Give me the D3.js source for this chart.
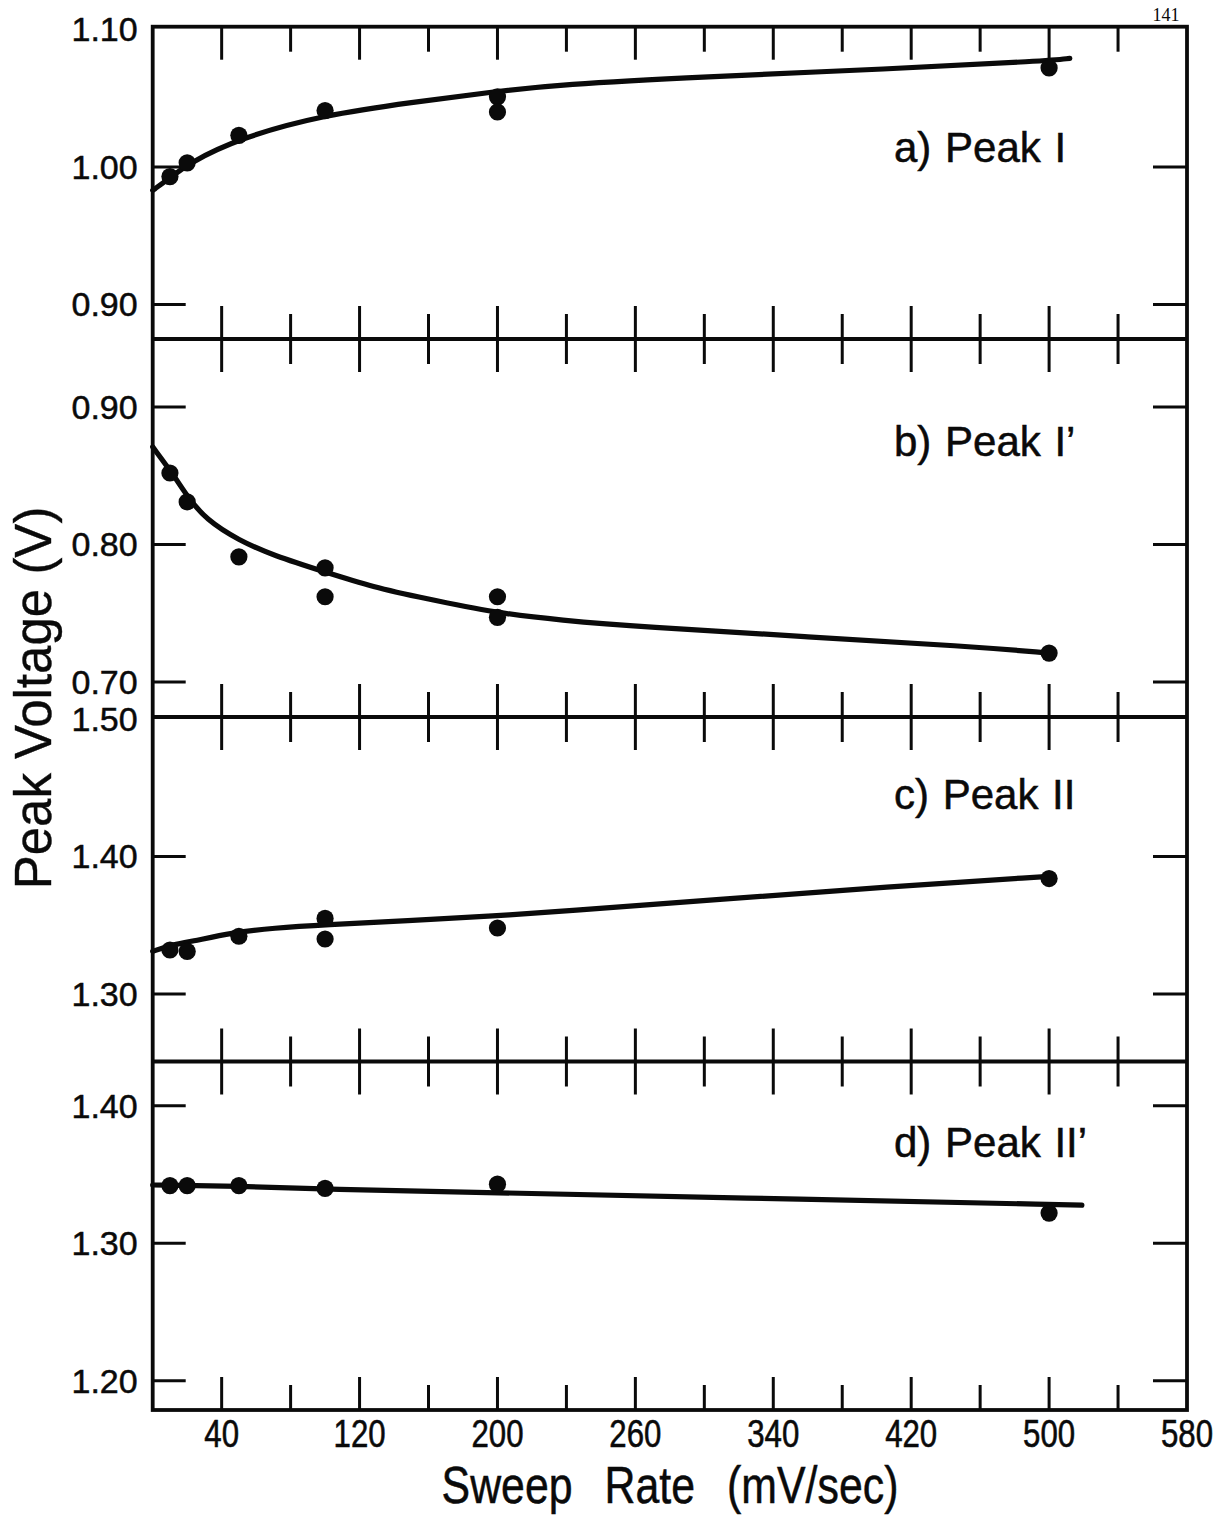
<!DOCTYPE html>
<html>
<head>
<meta charset="utf-8">
<script src="https://cdn.jsdelivr.net/npm/d3@7"></script>
<style>
  html, body { margin: 0; padding: 0; background: #fff; }
  svg { display: block; }
</style>
</head>
<body>
<svg id="chart" width="1224" height="1517"></svg>
<script>
// ---- Sweep-rate axis (mV/sec): labelled ticks and the unlabelled ticks between them
const sweepMajor = [40, 120, 200, 260, 340, 420, 500, 580];
const sweepMinor = [80, 160, 230, 300, 380, 460, 540];

// ---- Panel captions and voltage tick values
const panelNames = ["a) Peak I", "b) Peak I’", "c) Peak II", "d) Peak II’"];
const voltTicksA = [0.90, 1.00, 1.10];
const voltTicksB = [0.70, 0.80, 0.90];
const voltTicksC = [1.30, 1.40, 1.50];
const voltTicksD = [1.20, 1.30, 1.40];

// ---- Measured peak voltages (V) vs sweep rate (mV/sec)
const peakI_rate   = [10, 20, 50, 100, 200, 200, 500];
const peakI_volt   = [0.993, 1.003, 1.023, 1.041, 1.051, 1.040, 1.072];

const peakIp_rate  = [10, 20, 50, 100, 100, 200, 200, 500];
const peakIp_volt  = [0.852, 0.831, 0.791, 0.783, 0.762, 0.762, 0.747, 0.721];

const peakII_rate  = [10, 20, 50, 100, 100, 200, 500];
const peakII_volt  = [1.332, 1.331, 1.342, 1.355, 1.340, 1.348, 1.384];

const peakIIp_rate = [10, 20, 50, 100, 200, 500];
const peakIIp_volt = [1.342, 1.342, 1.342, 1.340, 1.343, 1.322];

// ---- Hand-drawn trend curves through each set
const fitI_rate   = [0, 10, 20, 50, 100, 150, 200, 227, 298, 406, 500, 512];
const fitI_volt   = [0.983, 0.992, 1.002, 1.021, 1.038, 1.047, 1.055, 1.060, 1.0655, 1.0712, 1.0772, 1.079];

const fitIp_rate  = [0, 13, 20, 31, 50, 70, 100, 128, 157, 200, 227, 264, 358, 453, 500];
const fitIp_volt  = [0.871, 0.849, 0.835, 0.818, 0.803, 0.792, 0.780, 0.769, 0.761, 0.750, 0.745, 0.740, 0.733, 0.726, 0.721];

const fitII_rate  = [0, 10, 22, 46, 70, 100, 147, 200, 227, 311, 406, 500];
const fitII_volt  = [1.331, 1.3355, 1.338, 1.3447, 1.348, 1.3504, 1.3533, 1.3569, 1.360, 1.369, 1.378, 1.3856];

const fitIIp_rate = [0, 50, 100, 200, 358, 519];
const fitIIp_volt = [1.3424, 1.3416, 1.3392, 1.3368, 1.332, 1.3278];

// ---- Layout
const L = 152.7, R = 1187;
const edges = [26.7, 339, 717, 1061.5, 1410];       // horizontal frame lines, top to bottom
const panelDomains = [[0.8749, 1.1020], [0.6745, 0.9495], [1.2509, 1.5015], [1.1788, 1.4322]];
const captionBaselines = [162, 456, 809, 1157];
const captionX = 894;

const svg = d3.select("#chart");
const ink = "#0a0a0a";
const sans = "'Liberation Sans', Arial, sans-serif";

// Piecewise sweep-rate scale: 0..200 and 260..580 share one spacing per 40 mV/s,
// while 200..260 spans two tick intervals.
const step = (R - L) / 15;
const x = d3.scaleLinear()
  .domain([0, 200, 260, 580])
  .range([L, L + 5 * step, L + 7 * step, R]);

const panels = [
  { ticks: voltTicksA, rate: peakI_rate,   volt: peakI_volt,   fitR: fitI_rate,   fitV: fitI_volt },
  { ticks: voltTicksB, rate: peakIp_rate,  volt: peakIp_volt,  fitR: fitIp_rate,  fitV: fitIp_volt },
  { ticks: voltTicksC, rate: peakII_rate,  volt: peakII_volt,  fitR: fitII_rate,  fitV: fitII_volt },
  { ticks: voltTicksD, rate: peakIIp_rate, volt: peakIIp_volt, fitR: fitIIp_rate, fitV: fitIIp_volt }
];

const fmt = d3.format(".2f");
const majorLen = 33, minorLen = 25, yTickLen = 33;

panels.forEach((p, i) => {
  const top = edges[i], bottom = edges[i + 1];
  const y = d3.scaleLinear().domain(panelDomains[i]).range([bottom, top]);
  const g = svg.append("g");

  // voltage ticks on both sides, pointing inward
  p.ticks.forEach(v => {
    const yy = y(v);
    if (yy - top > 4 && bottom - yy > 4) {
      g.append("line").attr("x1", L).attr("x2", L + yTickLen).attr("y1", yy).attr("y2", yy)
        .attr("stroke", ink).attr("stroke-width", 3);
      g.append("line").attr("x1", R - yTickLen - 1).attr("x2", R).attr("y1", yy).attr("y2", yy)
        .attr("stroke", ink).attr("stroke-width", 3);
    }
    g.append("text")
      .attr("x", L - 15).attr("y", yy).attr("dy", "0.35em")
      .attr("text-anchor", "end")
      .attr("font-family", sans)
      .attr("font-size", 34).attr("fill", ink)
      .attr("stroke", ink).attr("stroke-width", 0.5)
      .text(fmt(v));
  });

  // trend curve
  const fit = d3.zip(p.fitR, p.fitV);
  g.append("path")
    .datum(fit)
    .attr("d", d3.line().x(d => x(d[0])).y(d => y(d[1])).curve(d3.curveBasis))
    .attr("fill", "none").attr("stroke", ink)
    .attr("stroke-width", 5.2).attr("stroke-linecap", "round").attr("stroke-linejoin", "round");

  // measured points
  g.selectAll("circle")
    .data(d3.zip(p.rate, p.volt))
    .join("circle")
    .attr("cx", d => x(d[0])).attr("cy", d => y(d[1]))
    .attr("r", 8.6).attr("fill", ink);

  // caption
  g.append("text")
    .attr("x", captionX).attr("y", captionBaselines[i])
    .attr("font-family", sans)
    .attr("font-size", 42).attr("fill", ink)
    .attr("stroke", ink).attr("stroke-width", 0.5)
    .attr("word-spacing", 2)
    .text(panelNames[i]);
});

// sweep-rate ticks on every horizontal frame line
const allTicks = sweepMajor.concat(sweepMinor).filter(v => x(v) < R - 4);
edges.forEach((ey, k) => {
  allTicks.forEach(v => {
    const len = sweepMajor.includes(v) ? majorLen : minorLen;
    const up = k === 0 ? 0 : len;                  // nothing above the top line
    const down = k === edges.length - 1 ? 0 : len; // nothing below the bottom line
    svg.append("line")
      .attr("x1", x(v)).attr("x2", x(v))
      .attr("y1", ey - up).attr("y2", ey + down)
      .attr("stroke", ink).attr("stroke-width", 3);
  });
});

// frame and panel dividers
svg.append("rect")
  .attr("x", L).attr("y", edges[0])
  .attr("width", R - L).attr("height", edges[edges.length - 1] - edges[0])
  .attr("fill", "none").attr("stroke", ink).attr("stroke-width", 3.8);
edges.slice(1, -1).forEach(ey => {
  svg.append("line").attr("x1", L).attr("x2", R).attr("y1", ey).attr("y2", ey)
    .attr("stroke", ink).attr("stroke-width", 3.8);
});

// sweep-rate labels (narrow face)
sweepMajor.forEach(v => {
  svg.append("text")
    .attr("transform", `translate(${x(v)},1447) scale(0.8,1)`)
    .attr("text-anchor", "middle")
    .attr("font-family", sans)
    .attr("font-size", 39).attr("fill", ink)
    .attr("stroke", ink).attr("stroke-width", 0.6)
    .text(v);
});

// axis titles
svg.append("text")
  .attr("transform", "translate(670,1503) scale(0.84,1)")
  .attr("text-anchor", "middle")
  .attr("font-family", sans)
  .attr("font-size", 51).attr("word-spacing", 24).attr("fill", ink)
  .attr("stroke", ink).attr("stroke-width", 0.5)
  .text("Sweep Rate (mV/sec)");

svg.append("text")
  .attr("transform", "translate(51,698) rotate(-90)")
  .attr("text-anchor", "middle")
  .attr("font-family", sans)
  .attr("font-size", 51).attr("fill", ink)
  .attr("stroke", ink).attr("stroke-width", 0.4)
  .text("Peak Voltage (V)");

// page number
svg.append("text")
  .attr("x", 1166).attr("y", 21)
  .attr("text-anchor", "middle")
  .attr("font-family", "'Liberation Serif', 'Times New Roman', serif")
  .attr("font-size", 18).attr("fill", ink)
  .text("141");
</script>
</body>
</html>
